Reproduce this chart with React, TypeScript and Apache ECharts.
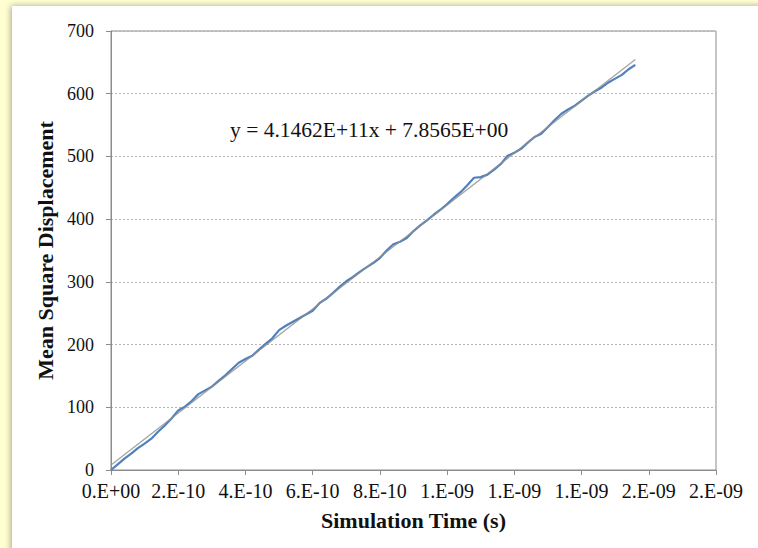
import React, { useEffect, useRef } from "react";
import * as echarts from "echarts";

// Simulation time in nanoseconds (axis unit = 1e-9 s)
const timeNs = [
  0.0, 0.02, 0.04, 0.06, 0.08, 0.1, 0.12, 0.14, 0.16, 0.18,
  0.2, 0.22, 0.24, 0.26, 0.28, 0.3, 0.32, 0.34, 0.36, 0.38,
  0.4, 0.42, 0.44, 0.46, 0.48, 0.5, 0.52, 0.54, 0.56, 0.58,
  0.6, 0.62, 0.64, 0.66, 0.68, 0.7, 0.72, 0.74, 0.76, 0.78,
  0.8, 0.82, 0.84, 0.86, 0.88, 0.9, 0.92, 0.94, 0.96, 0.98,
  1.0, 1.02, 1.04, 1.06, 1.08, 1.1, 1.12, 1.14, 1.16, 1.18,
  1.2, 1.22, 1.24, 1.26, 1.28, 1.3, 1.32, 1.34, 1.36, 1.38,
  1.4, 1.42, 1.44, 1.46, 1.48, 1.5, 1.52, 1.54, 1.56,
];

const msd = [
  0, 9, 18, 26, 35, 42, 50, 61, 71, 82,
  95, 101, 110, 121, 127, 133, 142, 151, 161, 171,
  177, 182, 192, 201, 210, 223, 230, 236, 242, 248,
  254, 266, 273, 282, 292, 301, 308, 316, 323, 330,
  338, 350, 360, 364, 370, 381, 390, 398, 407, 415,
  424, 434, 443, 454, 466, 467, 471, 479, 488, 501,
  506, 512, 522, 531, 536, 547, 558, 568, 575, 581,
  589, 597, 604, 610, 618, 624, 630, 639, 646,
];

// Linear trend line endpoints (y = 4.1462E+11x + 7.8565)
const trendTimeNs = [0, 1.56];
const trendMsd = [7.8565, 654.66];

const xTickLabels = [
  "0.E+00", "2.E-10", "4.E-10", "6.E-10", "8.E-10",
  "1.E-09", "1.E-09", "1.E-09", "2.E-09", "2.E-09",
];
const yTicks = [0, 100, 200, 300, 400, 500, 600, 700];

const equationText = "y = 4.1462E+11x + 7.8565E+00";
const xName = "Simulation Time (s)";
const yName = "Mean Square Displacement";

const SERIF = "'Liberation Serif', 'Times New Roman', serif";

export default function App() {
  const ref = useRef<HTMLDivElement>(null);

  useEffect(() => {
    if (!ref.current) return;
    const chart = echarts.init(ref.current, undefined, { renderer: "svg" });
    chart.setOption({
      animation: false,
      backgroundColor: "#FFFFD2",
      graphic: [
        {
          type: "rect",
          z: -10,
          shape: { x: 12, y: 6, width: 760, height: 560 },
          style: {
            fill: "#ffffff",
            shadowBlur: 6,
            shadowColor: "rgba(0,0,0,0.35)",
            shadowOffsetX: -1,
            shadowOffsetY: 0,
          },
        },
        {
          type: "text",
          left: 230,
          top: 119,
          z: 10,
          style: {
            text: equationText,
            font: `21.5px ${SERIF}`,
            fill: "#111",
          },
        },
      ],
      grid: {
        left: 111,
        top: 31,
        right: 42,
        bottom: 78,
        show: true,
        borderColor: "#8c8c8c",
        borderWidth: 1,
        backgroundColor: "transparent",
      },
      xAxis: {
        type: "value",
        min: 0,
        max: 1.8,
        interval: 0.2,
        name: xName,
        nameLocation: "middle",
        nameGap: 39,
        nameTextStyle: {
          fontFamily: SERIF,
          fontWeight: "bold",
          fontSize: 22,
          color: "#111",
        },
        axisLine: { show: true, lineStyle: { color: "#8c8c8c", width: 1 } },
        axisTick: { show: true, length: 5, lineStyle: { color: "#8c8c8c" } },
        axisLabel: {
          fontFamily: SERIF,
          fontSize: 20,
          color: "#111",
          margin: 11,
          formatter: (v: number) => xTickLabels[Math.round(v / 0.2)] ?? "",
        },
        splitLine: { show: false },
      },
      yAxis: {
        type: "value",
        min: yTicks[0],
        max: yTicks[yTicks.length - 1],
        interval: 100,
        name: yName,
        nameLocation: "middle",
        nameGap: 42,
        nameTextStyle: {
          fontFamily: SERIF,
          fontWeight: "bold",
          fontSize: 22,
          color: "#111",
        },
        axisLine: { show: true, lineStyle: { color: "#8c8c8c", width: 1 } },
        axisTick: { show: true, length: 5, lineStyle: { color: "#8c8c8c" } },
        axisLabel: {
          fontFamily: SERIF,
          fontSize: 18,
          color: "#111",
          margin: 17,
        },
        splitLine: {
          show: true,
          lineStyle: { color: "#b4b4b4", type: [2, 2], width: 1 },
        },
      },
      series: [
        {
          type: "line",
          name: "MSD",
          data: timeNs.map((t, i) => [t, msd[i]]),
          showSymbol: false,
          symbol: "none",
          lineStyle: { color: "#4F81BD", width: 2.2 },
          z: 2,
        },
        {
          type: "line",
          name: "Trend",
          data: trendTimeNs.map((t, i) => [t, trendMsd[i]]),
          showSymbol: false,
          symbol: "none",
          lineStyle: { color: "#8f8f8f", width: 1.3, opacity: 0.8 },
          z: 3,
        },
      ],
    });
    return () => chart.dispose();
  }, []);

  return (
    <div
      ref={ref}
      style={{ position: "fixed", left: 0, top: 0, width: 758, height: 548 }}
    />
  );
}
